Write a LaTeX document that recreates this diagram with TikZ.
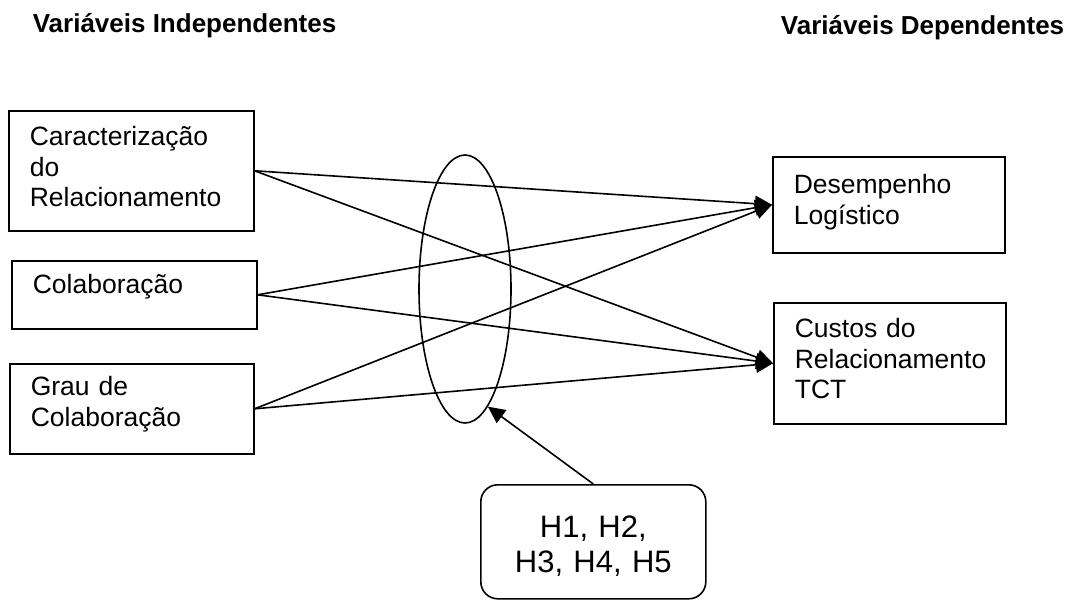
\documentclass[tikz,border=0pt]{standalone}
\usepackage{fontspec}
\setmainfont{Liberation Sans}
\usetikzlibrary{arrows.meta,shapes.geometric}

\begin{document}
\begin{tikzpicture}[x=1pt,y=-1pt,line width=1.6pt,
  caixa/.style={draw,anchor=north west,align=left,inner ysep=0pt,inner xsep=21pt,font=\fontsize{26.5}{30.5}\selectfont},
  titulo/.style={inner sep=0pt,font=\bfseries\fontsize{26}{30}\selectfont},
  seta/.style={-{Triangle[length=17pt,width=16pt]},line width=1.6pt}]
\useasboundingbox (0,0) rectangle (1073,601);
\node[titulo,anchor=base west] (vi) at (32,33) {Variáveis Independentes};
\node[titulo,anchor=base east] (vd) at (1065,35) {Variáveis Dependentes};

\node[caixa,text width=203pt,text height=35pt,text depth=85pt] (car) at (8,110) {Caracterização\\do\\Relacionamento};
\node[caixa,text width=203pt,text height=33pt,text depth=35pt] (col) at (11,260) {Colaboração};
\node[caixa,text width=202pt,text height=32pt,text depth=58pt] (grau) at (9,363) {Grau de\\Colaboração};
\node[caixa,text width=190pt,text height=37pt,text depth=59pt] (des) at (772,156) {Desempenho\\Logístico};
\node[caixa,text width=190pt,text height=35pt,text depth=86pt] (cus) at (773,302) {Custos do\\Relacionamento\\TCT};

\node[draw,ellipse,inner sep=0pt,minimum width=92pt,minimum height=268pt] (elip) at (465,289) {};

\node[draw,rounded corners=17pt,anchor=north west,align=center,inner sep=0pt,text width=225pt,
  text height=53pt,text depth=61pt,font=\fontsize{31}{35}\selectfont] (hip) at (480,484) {H1, H2,\\H3, H4, H5};

\draw[seta] (car.east) -- (des.west);
\draw[seta] (car.east) -- (cus.west);
\draw[seta] (col.east) -- (des.west);
\draw[seta] (col.east) -- (cus.west);
\draw[seta] (grau.east) -- (des.west);
\draw[seta] (grau.east) -- (cus.west);
\draw[seta] (hip.north) -- (elip.-79.5);
\end{tikzpicture}
\end{document}
